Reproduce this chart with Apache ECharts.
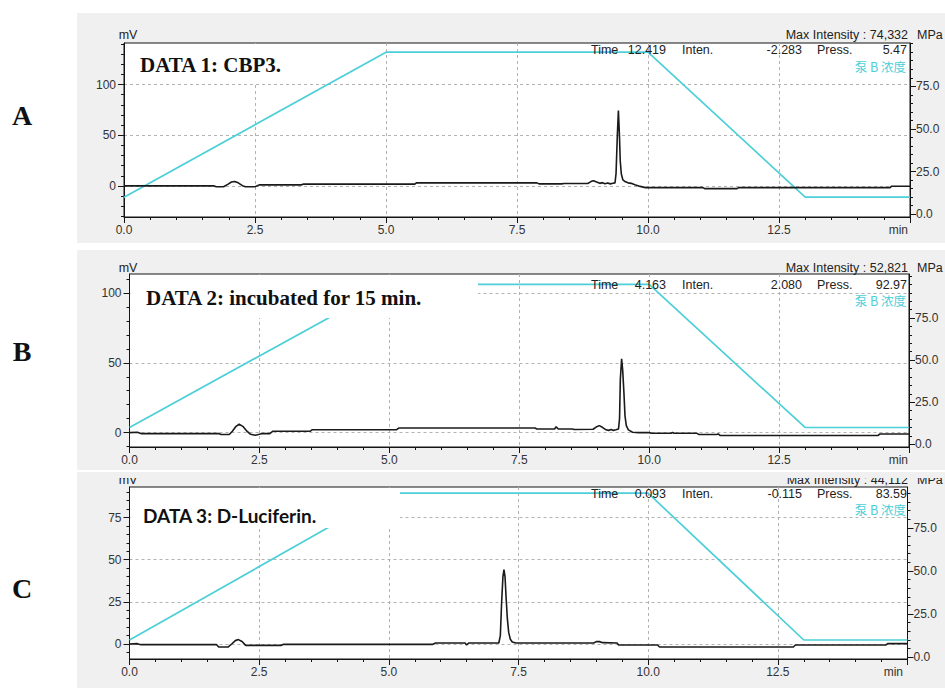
<!DOCTYPE html>
<html><head><meta charset="utf-8">
<script src="https://cdn.jsdelivr.net/npm/echarts@6/dist/echarts.min.js"></script>
<style>
html,body{margin:0;padding:0;background:#fff;}
#wrap{position:relative;width:945px;height:688px;overflow:hidden;}
.panel{position:absolute;left:77px;width:868px;background:#f0f0f0;}
#chart{position:absolute;left:0;top:0;width:945px;height:688px;}
</style></head><body>
<div id="wrap">
<div class="panel" style="top:13px;height:230px"></div>
<div class="panel" style="top:250px;height:220px"></div>
<div class="panel" style="top:472px;height:216px"></div>
<div id="chart"></div>
</div>
<script>
// ---------- data ----------
const panelLetters = ['A', 'B', 'C'];
const sampleLabels = ['DATA 1: CBP3.', 'DATA 2: incubated for 15 min.', 'DATA 3: D-Luciferin.'];
const maxIntensity = ['74,332', '52,821', '44,112'];
const cursorTime = ['12.419', '4.163', '0.093'];
const cursorInten = ['-2.283', '2.080', '-0.115'];
const cursorPress = ['5.47', '92.97', '83.59'];
const timeLabels = [0, 2.5, 5, 7.5, 10, 12.5];
const mvLabelsA = [0, 50, 100];
const mvLabelsB = [0, 50, 100];
const mvLabelsC = [0, 25, 50, 75];
const pumpLabels = [0, 25, 50, 75];
const gradientTime = [0, 5, 10, 13, 15];
const gradientPumpB = [10, 95, 95, 10, 10];

const traceA = [[0,0],[0.5,0],[1.0,0.2],[1.72,0],[1.76,-0.8],[1.9,-0.8],[1.98,1.5],[2.05,3.8],[2.11,4.3],[2.18,3],[2.26,0.2],[2.32,-0.8],[2.5,-0.8],[2.58,1],[3.38,1],[3.42,1.7],[5.55,1.7],[5.58,3],[7.88,3],[7.92,2],[8.35,2],[8.4,2.4],[8.85,2.4],[8.92,4.5],[8.96,5],[9.02,3.8],[9.08,2.5],[9.13,3.2],[9.18,2.2],[9.23,2.8],[9.28,2],[9.33,2.6],[9.37,3],[9.39,12],[9.415,50],[9.435,74.3],[9.455,50],[9.47,25],[9.49,12],[9.52,6],[9.57,4],[9.62,3],[9.68,2.5],[9.75,1.2],[9.85,-0.5],[9.95,-1.7],[11.05,-1.7],[11.08,-2.7],[11.7,-2.7],[11.73,-1.7],[14.62,-1.7],[14.65,-0.3],[15,-0.3]];

const traceB = [[0,0],[0.15,0.3],[0.22,-0.7],[1.72,-0.7],[1.76,-1.4],[1.92,-1.4],[1.98,1],[2.05,4.5],[2.11,6],[2.18,4.5],[2.26,1],[2.33,-1.2],[2.42,-1.9],[2.5,-1.2],[2.55,-0.7],[2.7,-0.7],[2.76,1],[3.48,1],[3.52,2.1],[5.14,2.1],[5.18,3.3],[7.8,3.3],[7.84,2.6],[8.18,2.6],[8.21,4.2],[8.25,2.6],[8.52,2.6],[8.56,2.2],[8.92,2.4],[8.98,4],[9.04,5],[9.1,3.8],[9.17,2],[9.22,1.6],[9.27,2.2],[9.31,1.6],[9.36,2],[9.41,2.6],[9.43,10],[9.445,38],[9.47,52.8],[9.49,45],[9.515,28],[9.535,12],[9.56,5],[9.6,2],[9.68,0.3],[9.8,0],[10.0,0],[10.05,-0.5],[10.42,-0.5],[10.45,0.1],[10.48,-0.5],[10.92,-0.5],[10.96,-1.4],[11.3,-1.4],[11.33,-0.9],[11.37,-2.1],[14.4,-2.1],[14.44,-1],[15,-1]];

const traceC = [[0,0],[0.15,0.2],[0.22,-0.4],[1.68,-0.4],[1.72,-1.8],[1.9,-1.8],[1.97,0],[2.04,2],[2.1,2.6],[2.17,1.5],[2.24,-0.8],[2.93,-0.8],[2.97,-0.2],[5.85,-0.2],[5.9,0.6],[6.47,0.6],[6.5,-0.6],[6.54,0.6],[7.12,0.6],[7.15,5],[7.175,25],[7.2,40],[7.22,44.1],[7.24,40],[7.26,28],[7.285,15],[7.31,7],[7.34,3],[7.38,1.2],[7.45,0.6],[8.95,0.6],[9.0,1.4],[9.06,1.4],[9.12,0.8],[9.4,0.6],[9.43,-0.6],[10.18,-0.6],[10.22,-1.8],[12.8,-1.8],[12.84,-0.6],[14.58,-0.6],[14.62,0.2],[15,0.2]];

// ---------- layout / style ----------
const F = '"Liberation Sans", Arial, sans-serif';
const CYAN = '#4ccfd8';
const AX = '#151515';
const GRIDC = '#b3b3b3';
const traces = [traceA, traceB, traceC];
const mvLabels = [mvLabelsA, mvLabelsB, mvLabelsC];
const SERIF = '"Liberation Serif", "Times New Roman", serif';
const layout = [
  {left:124, top:43, width:786, height:174, mv:[-30.7,141], mvStep:10, pump:[-1.6,100.4],
   headY:35, timeY:50, pumpY:66, labX:140, labY:65, labFont:'bold 21px ' + SERIF,
   box:[125,44,172,38], minX:908, letterY:115},
  {left:129.5, top:274, width:779.5, height:173, mv:[-10.3,113.6], mvStep:10, pump:[-1.6,101.2],
   headY:268, timeY:285, pumpY:300, labX:146, labY:298, labFont:'bold 21px ' + SERIF,
   box:[130.5,275,347.5,43], minX:908, letterY:351},
  {left:129.5, top:487, width:778, height:172, mv:[-8.9,93.1], mvStep:5, pump:[-1.0,98.6],
   headY:480, timeY:493.5, pumpY:509, labX:143, labY:515, labFont:'bold 19px Lato, "Open Sans", sans-serif',
   box:[130.5,488,269.5,40], minX:903, letterY:588}
];

function stepsIn(range, step) {
  const out = [];
  for (let v = Math.ceil(range[0] / step) * step; v <= range[1] + 1e-9; v += step) out.push(+v.toFixed(4));
  return out;
}

const option = {animation:false, backgroundColor:'transparent', grid:[], xAxis:[], yAxis:[], series:[], graphic:{elements:[]}};
const G = option.graphic.elements;

layout.forEach((L, i) => {
  option.grid.push({left:L.left, top:L.top, width:L.width, height:L.height, show:true,
    backgroundColor:'#ffffff', borderColor:AX, borderWidth:1});
  option.xAxis.push({gridIndex:i, type:'value', min:0, max:15, interval:2.5,
    axisLine:{show:true, onZero:false, lineStyle:{color:AX}},
    axisTick:{show:true, length:6, lineStyle:{color:AX}},
    minorTick:{show:true, splitNumber:5, length:3, lineStyle:{color:AX}},
    axisLabel:{show:true, margin:7, color:'#333', fontFamily:F, fontSize:12,
      formatter: v => timeLabels.indexOf(v) >= 0 ? v.toFixed(1) : ''},
    splitLine:{show:true, lineStyle:{color:GRIDC, type:[3,3], width:1}}
  });
  option.yAxis.push({gridIndex:i, type:'value', position:'left', min:L.mv[0], max:L.mv[1],
    axisLine:{show:true, onZero:false, lineStyle:{color:AX}},
    axisTick:{show:true, length:3, customValues:stepsIn(L.mv, L.mvStep), lineStyle:{color:AX}},
    axisLabel:{show:true, customValues:mvLabels[i], margin:8, color:'#333', fontFamily:F, fontSize:12},
    splitLine:{show:false}});
  option.yAxis.push({gridIndex:i, type:'value', position:'left', min:L.mv[0], max:L.mv[1],
    axisLine:{show:false, onZero:false},
    axisTick:{show:true, length:6, customValues:mvLabels[i], lineStyle:{color:AX}},
    axisLabel:{show:false},
    splitLine:{show:true, lineStyle:{color:GRIDC, type:[3,3], width:1}}});
  option.yAxis.push({gridIndex:i, type:'value', position:'right', min:L.pump[0], max:L.pump[1],
    axisLine:{show:true, onZero:false, lineStyle:{color:AX}},
    axisTick:{show:true, length:3, customValues:stepsIn(L.pump, 5), lineStyle:{color:AX}},
    axisLabel:{show:true, customValues:pumpLabels, margin:6, color:'#333', fontFamily:F, fontSize:12,
      formatter: v => (+v).toFixed(1)},
    splitLine:{show:false}});
  option.yAxis.push({gridIndex:i, type:'value', position:'right', min:L.pump[0], max:L.pump[1],
    axisLine:{show:false, onZero:false},
    axisTick:{show:true, length:6, customValues:pumpLabels, lineStyle:{color:AX}},
    axisLabel:{show:false}, splitLine:{show:false}});

  option.series.push({type:'line', xAxisIndex:i, yAxisIndex:4*i+2, silent:true, symbol:'none', z:3,
    data: gradientTime.map((t, k) => [t, gradientPumpB[k]]),
    lineStyle:{color:CYAN, width:1.7}});
  option.series.push({type:'line', xAxisIndex:i, yAxisIndex:4*i, silent:true, symbol:'none', z:4,
    data: traces[i], lineStyle:{color:'#1a1a1a', width:1.6}});

  G.push({type:'rect', shape:{x:L.box[0], y:L.box[1], width:L.box[2], height:L.box[3]}, style:{fill:'#ffffff'}, z:50, silent:true});
  const hz = i === 2 ? 110 : 130;
  const t = (x, y, text, align, font, fill, z) => G.push({type:'text', x:x, y:y, z:z || 130, silent:true,
    style:{text:text, font:font || ('12.5px ' + F), fill:fill || '#222', textAlign:align, textVerticalAlign:'middle'}});
  t(128, L.headY, 'mV', 'center', null, null, hz);
  t(908, L.headY, 'Max Intensity : ' + maxIntensity[i], 'right', null, null, hz);
  t(917, L.headY, 'MPa', 'left', null, null, hz);
  t(591, L.timeY, 'Time', 'left');
  t(666, L.timeY, cursorTime[i], 'right');
  t(682, L.timeY, 'Inten.', 'left');
  t(802, L.timeY, cursorInten[i], 'right');
  t(817, L.timeY, 'Press.', 'left');
  t(907, L.timeY, cursorPress[i], 'right');
  t(906, L.pumpY, '泵 B 浓度', 'right', '12.5px "Noto Sans CJK SC", sans-serif', CYAN);
  t(L.labX, L.labY, sampleLabels[i], 'left', L.labFont, '#111');
  t(L.minX, L.top + L.height + 13, 'min', 'right', '12px ' + F, '#333');
  t(22, L.letterY, panelLetters[i], 'center', 'bold 28px ' + SERIF, '#111');
});
G.push({type:'rect', shape:{x:77, y:472, width:868, height:6}, style:{fill:'#f0f0f0'}, z:120, silent:true});

const chart = echarts.init(document.getElementById('chart'), null, {renderer:'svg'});
chart.setOption(option);
</script>
</body></html>
